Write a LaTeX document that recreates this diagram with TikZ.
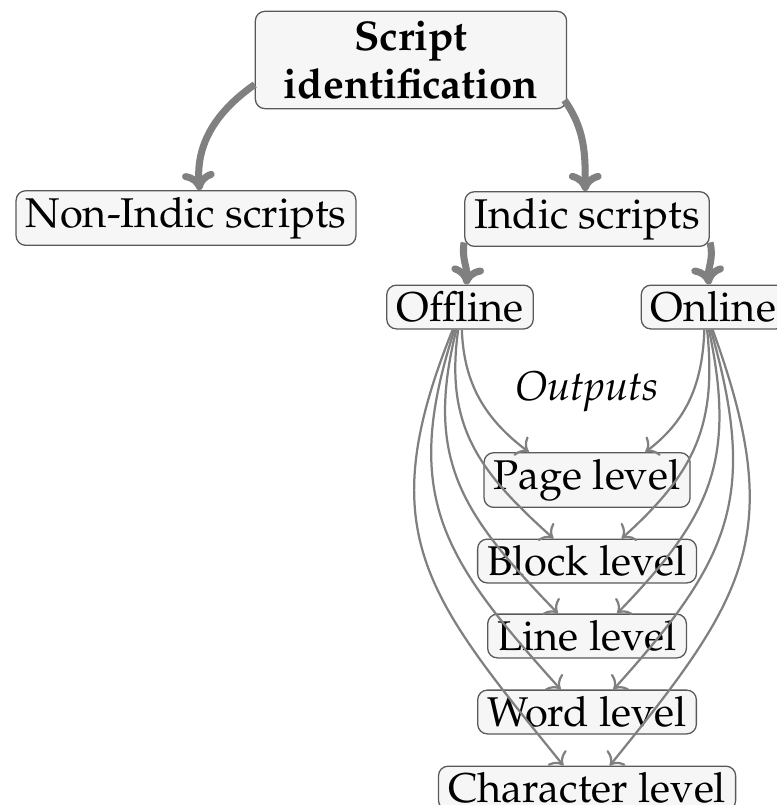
\documentclass[tikz,border=0pt]{standalone}
\usepackage[T1]{fontenc}
\usepackage{mathpazo}
\usetikzlibrary{arrows.meta,positioning}

\begin{document}
\begin{tikzpicture}[
  font=\fontsize{13}{15}\selectfont,
  box/.style={draw=gray!70!black, rounded corners=3pt, fill=gray!7, inner xsep=3pt, inner ysep=2pt},
  branch/.style={-{To[length=2mm,width=3.6mm]}, line width=2.2pt, draw=gray},
  feed/.style={-{To[length=1.2mm,width=2.6mm]}, line width=0.7pt, draw=gray}
]
\useasboundingbox (0,0) rectangle (8.538,-8.846);

\node[box, font=\fontsize{13}{15}\selectfont\bfseries, align=center, minimum width=3.42cm, minimum height=1.07cm] (sid) at (4.516,-0.659) {Script\\identification};
\node[box] (nonindic) at (2.044,-2.396) {Non-Indic scripts};
\node[box] (indic) at (6.451,-2.407) {Indic scripts};
\node[box] (offline) at (5.055,-3.374) {Offline};
\node[box] (online) at (7.84,-3.374) {Online};
\node[font=\fontsize{13}{15}\selectfont\itshape] (outputs) at (6.451,-4.308) {Outputs};
\node[box] (page) at (6.451,-5.275) {Page level};
\node[box] (block) at (6.451,-6.165) {Block level};
\node[box] (line) at (6.451,-6.989) {Line level};
\node[box] (word) at (6.451,-7.824) {Word level};
\node[box] (char) at (6.451,-8.66) {Character level};

% main split
\draw[branch] ([yshift=-0.27cm]sid.west) to[out=215,in=95] ([xshift=0.15cm]nonindic.north);
\draw[branch] ([xshift=-0.03cm,yshift=0.1cm]sid.south east) to[out=-55,in=90] ([xshift=-0.02cm]indic.north);
\draw[branch] ([yshift=0.05cm]indic.south west) to[out=-100,in=85] ([xshift=0.07cm]offline.north);
\draw[branch] ([yshift=0.05cm]indic.south east) to[out=-75,in=95] ([xshift=-0.05cm]online.north);

% offline outputs
\draw[feed] ([xshift=0.02cm]offline.south) to[out=-88,in=143] ([xshift=-0.64cm]page.north);
\draw[feed] ([xshift=-0.02cm]offline.south) to[out=-98,in=138,looseness=1.1] ([xshift=-0.37cm]block.north);
\draw[feed] ([xshift=-0.04cm]offline.south) to[out=-104,in=134,looseness=1.15] ([xshift=-0.32cm]line.north);
\draw[feed] ([xshift=-0.06cm]offline.south) to[out=-108,in=132,looseness=1.2] ([xshift=-0.29cm]word.north);
\draw[feed] ([xshift=-0.08cm]offline.south) to[out=-112,in=129,looseness=1.25] ([xshift=-0.26cm]char.north);

% online outputs
\draw[feed] ([xshift=-0.1cm]online.south) to[out=-92,in=37] ([xshift=0.64cm]page.north);
\draw[feed] ([xshift=-0.07cm]online.south) to[out=-84,in=42,looseness=1.1] ([xshift=0.38cm]block.north);
\draw[feed] ([xshift=-0.05cm]online.south) to[out=-78,in=46,looseness=1.15] ([xshift=0.33cm]line.north);
\draw[feed] ([xshift=-0.03cm]online.south) to[out=-74,in=48,looseness=1.2] ([xshift=0.29cm]word.north);
\draw[feed] ([xshift=-0.01cm]online.south) to[out=-70,in=51,looseness=1.25] ([xshift=0.25cm]char.north);
\end{tikzpicture}
\end{document}
